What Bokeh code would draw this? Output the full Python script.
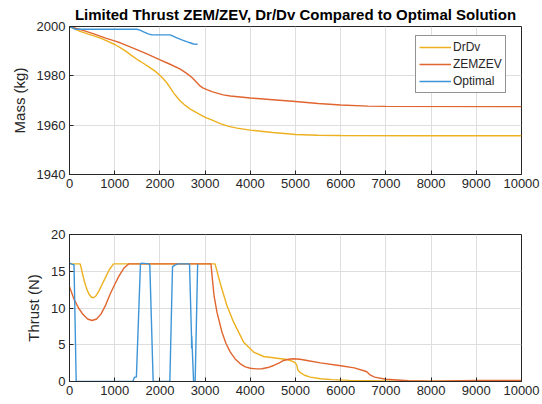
from bokeh.plotting import figure
from bokeh.layouts import column
from bokeh.models import Range1d, FixedTicker, Legend, LegendItem
from bokeh.embed import file_html
from bokeh.resources import INLINE

# ---------------- data ----------------
title_text = "Limited Thrust ZEM/ZEV, Dr/Dv Compared to Optimal Solution"
series_names = ["DrDv", "ZEMZEV", "Optimal"]

# Mass (kg) vs time
drdv_mass_t = [0, 100, 237, 400, 538, 700, 850, 1012, 1122, 1250, 1369, 1500, 1650, 1787, 1900,
               1992, 2080, 2156, 2230, 2303, 2380, 2451, 2560, 2672, 2850, 3004, 3170, 3336,
               3520, 3705, 4000, 4500, 5000, 5500, 6000, 8000, 10000]
drdv_mass = [2000, 1999.1, 1998.0, 1997.0, 1996.2, 1995.2, 1994.0, 1992.6, 1991.4, 1989.9,
             1988.3, 1986.6, 1984.9, 1983.2, 1981.8, 1980.3, 1978.7, 1977.1, 1975.1, 1973.1,
             1971.3, 1969.8, 1968.0, 1966.5, 1964.7, 1963.2, 1961.9, 1960.6, 1959.5, 1958.8,
             1958.0, 1957.0, 1956.2, 1955.9, 1955.8, 1955.7, 1955.7]

zem_mass_t = [0, 250, 538, 800, 1012, 1122, 1369, 1700, 1992, 2200, 2451, 2600, 2709, 2800,
              2893, 2960, 3041, 3150, 3263, 3400, 3558, 4000, 4500, 5000, 5500, 6000, 6600,
              7000, 10000]
zem_mass = [2000, 1998.7, 1997.0, 1995.3, 1994.1, 1993.4, 1991.5, 1989.0, 1986.6, 1984.9,
            1982.7, 1980.9, 1979.3, 1977.6, 1975.8, 1975.0, 1974.4, 1973.6, 1973.0, 1972.3,
            1971.8, 1971.0, 1970.3, 1969.6, 1968.8, 1968.2, 1967.7, 1967.6, 1967.5]

opt_mass_t = [0, 60, 126, 1492, 1560, 1640, 1740, 1824, 2229, 2350, 2500, 2650, 2745, 2834]
opt_mass = [2000, 1999.5, 1998.9, 1998.9, 1998.5, 1997.8, 1997.0, 1996.6, 1996.6, 1995.6,
            1994.5, 1993.5, 1992.9, 1992.8]

# Thrust (N) vs time
drdv_thr_t = [0, 200, 237, 280, 330, 380, 430, 480, 531, 580, 650, 720, 800, 880, 975, 3220,
              3337, 3484, 3631, 3852, 4074, 4295, 4590, 4812, 4950, 5000, 5030, 5048, 5108,
              5200, 5329, 5550, 5800, 6200, 7000, 8000, 10000]
drdv_thr = [16, 16, 16, 14.9, 13.6, 12.6, 11.9, 11.5, 11.4, 11.6, 12.3, 13.2, 14.2, 15.2, 16,
            16, 13.3, 10.3, 8.07, 5.35, 4.0, 3.4, 3.17, 2.99, 2.7, 2.5, 2.2, 1.6, 1.2,
            0.85, 0.59, 0.37, 0.25, 0.15, 0.07, 0.03, 0.03]

zem_thr_t = [0, 100, 200, 300, 400, 500, 600, 700, 800, 900, 1000, 1100, 1200, 1307, 3130,
             3160, 3200, 3263, 3374, 3460, 3558, 3660, 3779, 3890, 4000, 4130, 4259, 4390,
             4517, 4630, 4738, 4850, 4960, 5100, 5256, 5550, 6000, 6300, 6550, 6600, 6650,
             6750, 7000, 7500, 8000, 9000, 10000]
zem_thr = [12.9, 11.2, 10.0, 9.1, 8.5, 8.3, 8.5, 9.2, 10.4, 11.9, 13.2, 14.4, 15.4, 16, 16,
           14.0, 11.6, 9.4, 6.7, 5.2, 4.0, 3.1, 2.4, 2.0, 1.8, 1.72, 1.73, 1.9,
           2.18, 2.5, 2.86, 3.02, 3.09, 3.02, 2.86, 2.54, 2.15,
           1.85, 1.4, 1.2, 0.9, 0.6, 0.3, 0.1, 0.05, 0.15, 0.15]

opt_thr_t = [0, 75, 100, 148, 1400, 1420, 1440, 1480, 1570, 1600, 1760, 1777, 1851, 2220,
             2279, 2320, 2400, 2655, 2700, 2702, 2705, 2745, 2780, 2835]
opt_thr = [16.1, 15.9, 15.9, 0, 0, 0.3, 0.6, 0.6, 16, 16.1, 16, 15.8, 0, 0,
           15.6, 15.8, 16, 16, 6, 4.5, 6.2, 0, 0, 16]

x_ticks = [0, 1000, 2000, 3000, 4000, 5000, 6000, 7000, 8000, 9000, 10000]
mass_ticks = [1940, 1960, 1980, 2000]
thrust_ticks = [0, 5, 10, 15, 20]

colors = ["#EDB120", "#E0652F", "#3D95D8"]

FONT = "Liberation Sans"
TXT = "#262626"


def style(p, yticks, ylabel):
    p.xaxis.ticker = FixedTicker(ticks=x_ticks)
    p.yaxis.ticker = FixedTicker(ticks=yticks)
    for ax in (p.xaxis[0], p.yaxis[0]):
        ax.major_label_text_font = FONT
        ax.major_label_text_font_size = "13px"
        ax.major_label_text_color = TXT
        ax.axis_line_color = TXT
        ax.major_tick_line_color = TXT
        ax.major_tick_in = 4
        ax.major_tick_out = 0
        ax.minor_tick_line_color = None
        ax.major_label_standoff = 4
    p.yaxis.axis_label = ylabel
    p.yaxis.axis_label_text_font = FONT
    p.yaxis.axis_label_text_font_size = "15px"
    p.yaxis.axis_label_text_font_style = "normal"
    p.yaxis.axis_label_text_color = TXT
    p.yaxis.axis_label_standoff = 6
    p.xgrid.grid_line_color = "#DEDEDE"
    p.ygrid.grid_line_color = "#DEDEDE"
    p.outline_line_color = TXT
    p.outline_line_alpha = 1
    p.background_fill_color = "white"
    p.border_fill_color = "white"


p1 = figure(width=540, height=208, output_backend="svg", toolbar_location=None,
            x_range=Range1d(0, 10000), y_range=Range1d(1940, 2000),
            min_border_left=69, min_border_right=19, min_border_top=0, min_border_bottom=34)
p1.title.text = title_text
p1.title.align = "center"
p1.title.text_font = FONT
p1.title.text_font_size = "15px"
p1.title.text_font_style = "bold"
p1.title.text_color = "black"
p1.title.standoff = 7
style(p1, mass_ticks, "Mass (kg)")

r1 = p1.line(drdv_mass_t, drdv_mass, line_color=colors[0], line_width=1.4)
r2 = p1.line(zem_mass_t, zem_mass, line_color=colors[1], line_width=1.4)
r3 = p1.line(opt_mass_t, opt_mass, line_color=colors[2], line_width=1.4)

legend = Legend(items=[LegendItem(label=series_names[0], renderers=[r1]),
                       LegendItem(label=series_names[1], renderers=[r2]),
                       LegendItem(label=series_names[2], renderers=[r3])],
                location=(346, 81))
legend.label_text_font = FONT
legend.label_text_font_size = "12px"
legend.label_text_color = TXT
legend.border_line_color = TXT
legend.border_line_width = 1
legend.background_fill_alpha = 1
legend.glyph_width = 32
legend.glyph_height = 16
legend.label_height = 16
legend.label_standoff = 2
legend.spacing = 1
legend.padding = 3
legend.margin = 0
p1.add_layout(legend, "center")

p2 = figure(width=540, height=192, output_backend="svg", toolbar_location=None,
            x_range=Range1d(0, 10000), y_range=Range1d(0, 20),
            min_border_left=69, min_border_right=19, min_border_top=26, min_border_bottom=19)
style(p2, thrust_ticks, "Thrust (N)")
p2.line(drdv_thr_t, drdv_thr, line_color=colors[0], line_width=1.4)
p2.line(zem_thr_t, zem_thr, line_color=colors[1], line_width=1.4)
p2.line(opt_thr_t, opt_thr, line_color=colors[2], line_width=1.4)

layout = column(p1, p2)
open("out.html", "w").write(file_html(layout, INLINE))
